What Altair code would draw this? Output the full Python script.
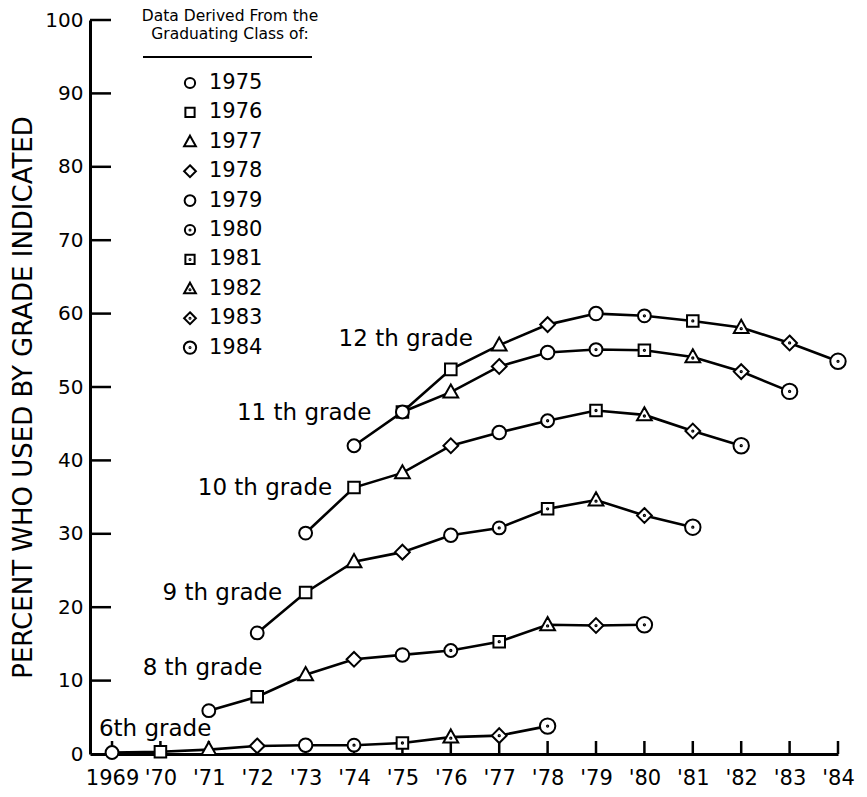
import json
import altair as alt
import pandas as pd

# ---------------- data ----------------
classes = ["1975", "1976", "1977", "1978", "1979", "1980", "1981", "1982", "1983", "1984"]

grade_names = ["6th", "8th", "9th", "10th", "11th", "12th"]
grade_numbers = [6, 8, 9, 10, 11, 12]

# percent who used by the grade indicated, one value per graduating class
grade_6 = [0.2, 0.3, 0.6, 1.1, 1.2, 1.2, 1.5, 2.3, 2.5, 3.8]
grade_8 = [5.9, 7.8, 10.8, 12.9, 13.5, 14.1, 15.3, 17.6, 17.5, 17.6]
grade_9 = [16.5, 22.0, 26.2, 27.5, 29.8, 30.8, 33.4, 34.6, 32.5, 30.9]
grade_10 = [30.1, 36.3, 38.3, 42.0, 43.8, 45.4, 46.8, 46.2, 44.0, 42.0]
grade_11 = [42.0, 46.6, 49.3, 52.8, 54.7, 55.1, 55.0, 54.1, 52.1, 49.4]
grade_12 = [46.6, 52.4, 55.7, 58.5, 60.0, 59.7, 59.0, 58.1, 56.0, 53.5]
grade_values = [grade_6, grade_8, grade_9, grade_10, grade_11, grade_12]

label_texts = ["12 th grade", "11 th grade", "10 th grade", "9 th grade", "8 th grade", "6th grade"]
label_years = [1975.07, 1972.97, 1972.16, 1971.28, 1970.87, 1969.89]
label_values = [56.6, 46.4, 36.2, 22.0, 11.7, 3.45]

x_tick_values = list(range(1969, 1985))
x_tick_labels = ["1969", "'70", "'71", "'72", "'73", "'74", "'75", "'76",
                 "'77", "'78", "'79", "'80", "'81", "'82", "'83", "'84"]
y_tick_values = [0, 10, 20, 30, 40, 50, 60, 70, 80, 90, 100]
y_inner_ticks = [10, 20, 30, 40, 50, 60, 70, 80, 90, 100]

legend_title = ["Data Derived From the", "Graduating Class of:"]
y_title = "PERCENT WHO USED BY GRADE INDICATED"

# ---------------- tables ----------------
rows = []
for name, num, vals in zip(grade_names, grade_numbers, grade_values):
    for cls, v in zip(classes, vals):
        rows.append({"grade": name, "cls": cls, "year": int(cls) - 12 + num, "pct": v})
df = pd.DataFrame(rows)

labels_df = pd.DataFrame({"text": label_texts, "year": label_years, "pct": label_values})
xt_df = pd.DataFrame({"year": x_tick_values})
yt_df = pd.DataFrame({"pct": y_inner_ticks})
legend_df = pd.DataFrame({"cls": classes, "idx": list(range(len(classes)))})
one_df = pd.DataFrame({"k": [0]})


# ---------------- marker shapes ----------------
def circ(r, cy=0.0):
    return f"M{-r},{cy}A{r},{r},0,1,1,{r},{cy}A{r},{r},0,1,1,{-r},{cy}Z"


CIRCLE = circ(1.0)
SQUARE = "M-0.9,-0.9H0.9V0.9H-0.9Z"
TRI = "M0,-1.2L1.15,0.85H-1.15Z"
DIAM = "M0,-1.15L1.15,0L0,1.15L-1.15,0Z"
DOT = circ(0.1)
shape_paths = [CIRCLE, SQUARE, TRI, DIAM, circ(1.05),
               CIRCLE + DOT, SQUARE + DOT, TRI + circ(0.1, 0.17), DIAM + DOT, circ(1.2) + DOT]

W, H = 748, 734
x_scale = alt.Scale(domain=[1968.545, 1984], nice=False, zero=False)
y_scale = alt.Scale(domain=[0, 100], nice=False, zero=False)
shape_scale = alt.Scale(domain=classes, range=shape_paths)

label_expr = json.dumps(x_tick_labels) + "[round(datum.value) - 1969]"

x_axis = alt.Axis(values=x_tick_values, labelExpr=label_expr, ticks=False, grid=False,
                  domain=True, domainWidth=3, domainColor="black", labelFontSize=21,
                  labelColor="black", labelPadding=13, labelFlush=False, labelOverlap=False,
                  title=None)
y_axis = alt.Axis(values=y_tick_values, ticks=False, grid=False, domain=True, domainWidth=3,
                  domainColor="black", labelFontSize=20, labelColor="black", labelPadding=7,
                  title=y_title, titleFontSize=26, titleFontWeight="normal", titleColor="black",
                  titleAngle=270, titleX=-67, titleY=377, titleAlign="center",
                  titleBaseline="middle")

X = alt.X("year:Q", scale=x_scale, axis=x_axis)
Y = alt.Y("pct:Q", scale=y_scale, axis=y_axis)

lines = alt.Chart(df).mark_line(color="black", strokeWidth=2.6).encode(
    x=X, y=Y, detail="grade:N",
)

points = alt.Chart(df).mark_point(filled=True, fill="white", stroke="black", strokeWidth=2,
                                  size=165, opacity=1).encode(
    x=X, y=Y,
    shape=alt.Shape("cls:N", scale=shape_scale, legend=None),
)

text = alt.Chart(labels_df).mark_text(fontSize=23, color="black", align="center",
                                      baseline="middle").encode(
    x=X, y=Y, text="text:N",
)

xticks = alt.Chart(xt_df).mark_rule(color="black", strokeWidth=2.5).encode(
    x=X, y=alt.value(H), y2=alt.value(H - 13),
)

yticks = alt.Chart(yt_df).mark_rule(color="black", strokeWidth=2.5).encode(
    y=Y, x=alt.value(0), x2=alt.value(21),
)

# ---------------- hand-made legend (classes drawn through the shape scale) ----------------
legend_y = alt.Y("ly:Q", scale=None, axis=None)

leg_title = alt.Chart(one_df).mark_text(
    text=legend_title, fontSize=15.5, lineHeight=18, align="center", baseline="top",
    color="black").encode(x=alt.value(140), y=alt.value(-11))

underline = alt.Chart(one_df).mark_rule(color="black", strokeWidth=2).encode(
    x=alt.value(53), x2=alt.value(222), y=alt.value(37),
)

leg_syms = alt.Chart(legend_df).transform_calculate(
    ly="63 + 29.4 * datum.idx"
).mark_point(filled=True, fill="white", stroke="black", strokeWidth=2, size=105,
             opacity=1).encode(
    x=alt.value(100), y=legend_y,
    shape=alt.Shape("cls:N", scale=shape_scale, legend=None),
)

leg_labels = alt.Chart(legend_df).transform_calculate(
    ly="63 + 29.4 * datum.idx"
).mark_text(fontSize=21, align="left", baseline="middle", color="black").encode(
    x=alt.value(119), y=legend_y, text="cls:N",
)

chart = alt.layer(lines, yticks, xticks, points, text,
                  leg_title, underline, leg_syms, leg_labels).properties(
    width=W, height=H,
    autosize=alt.AutoSizeParams(type="none"),
    padding={"left": 82, "top": 12, "right": 21, "bottom": 35},
).configure(font="DejaVu Sans").configure_view(stroke=None)

chart.save("out.html", embed_options={"renderer": "svg", "actions": False})
